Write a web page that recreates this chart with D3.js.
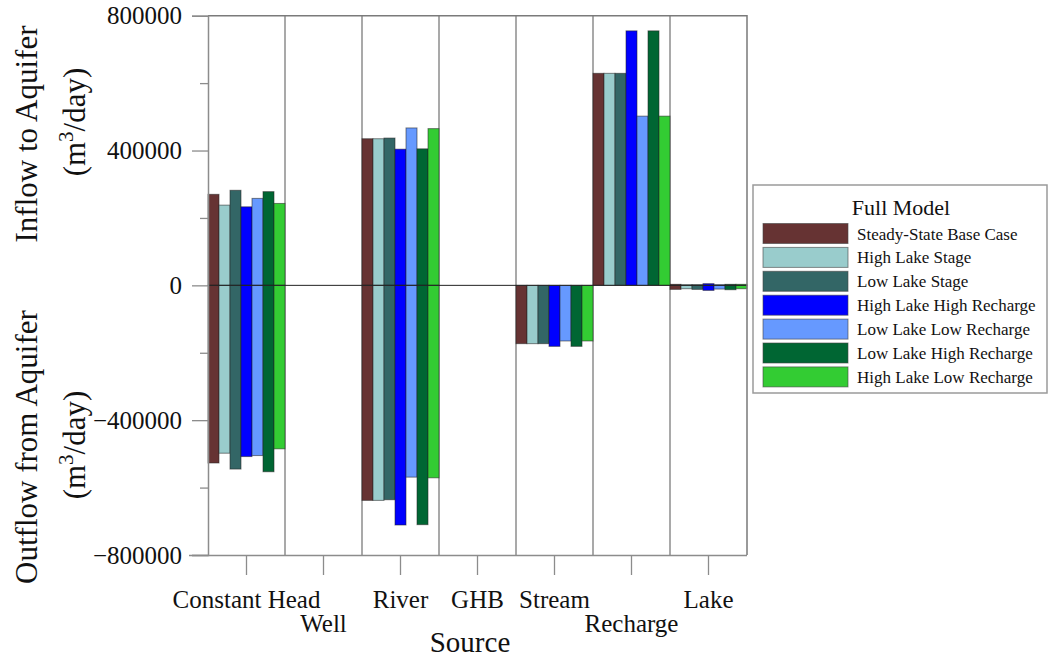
<!DOCTYPE html>
<html>
<head>
<meta charset="utf-8">
<script src="https://cdn.jsdelivr.net/npm/d3@7"></script>
<style>
  html, body { margin: 0; padding: 0; background: #ffffff; }
  svg text { font-family: "Liberation Serif", "Times New Roman", serif !important; }
</style>
</head>
<body>
<svg id="chart" width="1050" height="659"></svg>
<script>
// Water budget by source: inflow (positive) and outflow (negative) per scenario
const categories = ["Constant Head", "Well", "River", "GHB", "Stream", "Recharge", "Lake"];
const loweredLabels = ["Well", "Recharge"];
const seriesNames = [
  "Steady-State Base Case",
  "High Lake Stage",
  "Low Lake Stage",
  "High Lake High Recharge",
  "Low Lake Low Recharge",
  "Low Lake High Recharge",
  "High Lake Low Recharge"
];
const seriesColors = ["#663333", "#99cccc", "#336666", "#0000ff", "#6699ff", "#006633", "#33cc33"];

// m3/day, one value per category
const inflowBase      = [270000, 0, 435000, 0, 0, 629000, 3000];
const inflowHighLake  = [238000, 0, 435000, 0, 0, 629000, 2000];
const inflowLowLake   = [282000, 0, 437000, 0, 0, 629000, 2000];
const inflowHLHR      = [233000, 0, 404000, 0, 0, 755000, 5000];
const inflowLLLR      = [258000, 0, 467000, 0, 0, 502000, 2000];
const inflowLLHR      = [278000, 0, 405000, 0, 0, 755000, 3000];
const inflowHLLR      = [243000, 0, 465000, 0, 0, 502000, 3000];

const outflowBase     = [-527000, 0, -638000, 0, -173000, 0, -12000];
const outflowHighLake = [-498000, 0, -638000, 0, -173000, 0, -10000];
const outflowLowLake  = [-545000, 0, -636000, 0, -173000, 0, -12000];
const outflowHLHR     = [-508000, 0, -711000, 0, -181000, 0, -15000];
const outflowLLLR     = [-505000, 0, -569000, 0, -165000, 0, -11000];
const outflowLLHR     = [-553000, 0, -710000, 0, -181000, 0, -13000];
const outflowHLLR     = [-485000, 0, -571000, 0, -165000, 0, -10000];

const inflows  = [inflowBase, inflowHighLake, inflowLowLake, inflowHLHR, inflowLLLR, inflowLLHR, inflowHLLR];
const outflows = [outflowBase, outflowHighLake, outflowLowLake, outflowHLHR, outflowLLLR, outflowLLHR, outflowHLLR];

const majorTicks = [-800000, -400000, 0, 400000, 800000];
const minorTicks = [-600000, -200000, 200000, 600000];

const svg = d3.select("#chart");
const plot = { left: 208, right: 747, top: 15.7, bottom: 555 };

const x = d3.scaleBand().domain(categories).range([plot.left, plot.right]).padding(0);
const xs = d3.scaleBand().domain(seriesNames).range([0, x.bandwidth()]).padding(0);
const y = d3.scaleLinear().domain([-800000, 800000]).range([plot.bottom, plot.top]);

// category boundary lines
const bounds = categories.map(c => x(c) + x.bandwidth()).slice(0, -1);
svg.append("g").selectAll("line").data(bounds).join("line")
  .attr("x1", d => d).attr("x2", d => d)
  .attr("y1", plot.top).attr("y2", plot.bottom)
  .attr("stroke", "#8c8c8c").attr("stroke-width", 1.5);

// bars
const bars = [];
seriesNames.forEach((s, si) => {
  categories.forEach((c, ci) => {
    bars.push({ s, si, c, v: inflows[si][ci] });
    bars.push({ s, si, c, v: outflows[si][ci] });
  });
});
svg.append("g").selectAll("rect").data(bars.filter(d => d.v !== 0)).join("rect")
  .attr("x", d => x(d.c) + xs(d.s))
  .attr("width", xs.bandwidth())
  .attr("y", d => y(Math.max(0, d.v)))
  .attr("height", d => Math.abs(y(d.v) - y(0)))
  .attr("fill", d => seriesColors[d.si])
  .attr("stroke", "#222").attr("stroke-opacity", 0.55).attr("stroke-width", 1);

// zero line
svg.append("line")
  .attr("x1", plot.left).attr("x2", plot.right)
  .attr("y1", y(0)).attr("y2", y(0))
  .attr("stroke", "#222").attr("stroke-width", 1);

// frame top and right
svg.append("path")
  .attr("d", `M${plot.left},${plot.top}H${plot.right}V${plot.bottom}`)
  .attr("fill", "none").attr("stroke", "#7a7a7a").attr("stroke-width", 1.5);

// y axis
const yAxis = svg.append("g").attr("transform", `translate(${plot.left},0)`)
  .call(d3.axisLeft(y).tickValues(majorTicks).tickSize(16).tickPadding(10).tickFormat(d3.format("d")));
svg.append("g").attr("transform", `translate(${plot.left},0)`)
  .call(d3.axisLeft(y).tickValues(minorTicks).tickSize(8).tickFormat(""))
  .call(g => g.select(".domain").remove());
svg.selectAll(".tick line").attr("stroke", "#8c8c8c").attr("stroke-width", 1.3);
yAxis.select(".domain").attr("stroke", "#8c8c8c").attr("stroke-width", 1.5);
yAxis.attr("font-size", 25);
yAxis.selectAll("text").attr("fill", "#111");

// x axis
const xAxis = svg.append("g").attr("transform", `translate(0,${plot.bottom})`)
  .call(d3.axisBottom(x).tickSize(20).tickSizeOuter(0));
xAxis.attr("font-size", 25);
xAxis.select(".domain").attr("stroke", "#8c8c8c").attr("stroke-width", 1.5)
  .attr("d", `M${plot.left - 19},0.5H${plot.right}`);
xAxis.selectAll(".tick line").attr("stroke", "#8c8c8c").attr("stroke-width", 1.3);
xAxis.selectAll("text")
  .attr("fill", "#111")
  .attr("dy", null)
  .attr("y", d => (loweredLabels.includes(d) ? 77 : 53));

// axis titles
svg.append("text")
  .attr("x", 470).attr("y", 652)
  .attr("text-anchor", "middle").attr("font-size", 29).attr("fill", "#111")
  .text("Source");

function unitLabel(cx, cy) {
  const t = svg.append("text")
    .attr("transform", `translate(${cx},${cy}) rotate(-90)`)
    .attr("text-anchor", "middle").attr("font-size", 31).attr("fill", "#111");
  t.append("tspan").text("(m");
  t.append("tspan").attr("dy", -12).attr("font-size", 21).text("3");
  t.append("tspan").attr("dy", 12).text("/day)");
}
svg.append("text")
  .attr("transform", "translate(37,134) rotate(-90)")
  .attr("text-anchor", "middle").attr("font-size", 31).attr("fill", "#111")
  .text("Inflow to Aquifer");
unitLabel(85, 122);
svg.append("text")
  .attr("transform", "translate(37,447) rotate(-90)")
  .attr("text-anchor", "middle").attr("font-size", 31).attr("fill", "#111")
  .text("Outflow from Aquifer");
unitLabel(85, 445);

// legend
const legend = svg.append("g").attr("transform", "translate(753,185)");
legend.append("rect")
  .attr("width", 294).attr("height", 208)
  .attr("fill", "#fff").attr("stroke", "#9a9a9a").attr("stroke-width", 1.5);
legend.append("text")
  .attr("x", 148).attr("y", 30)
  .attr("text-anchor", "middle").attr("font-size", 22).attr("fill", "#111")
  .text("Full Model");
const rows = legend.selectAll("g.row").data(seriesNames).join("g")
  .attr("class", "row")
  .attr("transform", (d, i) => `translate(0,${38.5 + i * 23.9})`);
rows.append("rect")
  .attr("x", 10).attr("width", 85).attr("height", 20)
  .attr("fill", (d, i) => seriesColors[i])
  .attr("stroke", "#444").attr("stroke-opacity", 0.6).attr("stroke-width", 1);
rows.append("text")
  .attr("x", 104).attr("y", 16)
  .attr("font-size", 17).attr("fill", "#111")
  .text(d => d);
</script>
</body>
</html>
